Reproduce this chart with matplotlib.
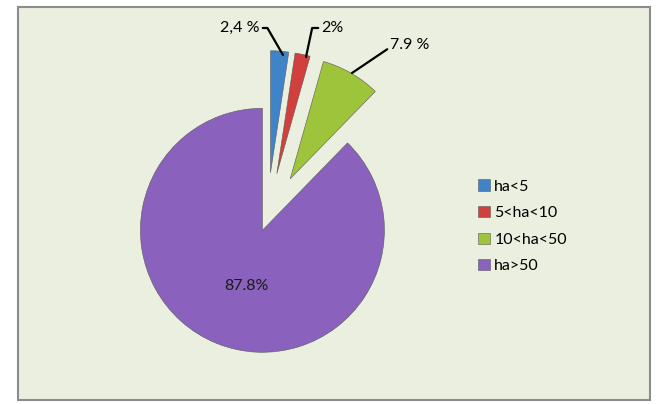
import matplotlib.pyplot as plt
from matplotlib.patches import Rectangle

plt.rcParams['font.family'] = ['Lato', 'DejaVu Sans']

categorias = ['ha<5', '5<ha<10', '10<ha<50', 'ha>50']
valores = [2.4, 2.0, 7.9, 87.8]
rotulos = ['2,4 %', '2%', '7.9 %', '87.8%']
cores = ['#3F84C9', '#D1403D', '#9DC43A', '#8A62BE']
explode = [0.38, 0.38, 0.38, 0.1]

W, H = 666, 404
fig = plt.figure(figsize=(W / 100, H / 100), dpi=100)
fig.patch.set_facecolor('white')

# moldura do gráfico
fig.patches.append(Rectangle((18 / W, 4 / H), 632 / W, 393 / H, transform=fig.transFigure,
                             facecolor='#EAEFDF', edgecolor='#8C8C8C', linewidth=1.5, zorder=-10))

R = 122  # raio em pixels
cx, cy = 267, 219
ax = fig.add_axes([(cx - 2 * R) / W, 0, 4 * R / W, 1])
ax.patch.set_visible(False)
wedges, _ = ax.pie(valores, colors=cores, explode=explode, startangle=90, counterclock=False,
                   wedgeprops={'edgecolor': '#5a5a5a', 'linewidth': 0.4})
ax.set_xlim(-2, 2)
ax.set_ylim(-(H - cy) / R, cy / R)
ax.set_aspect('auto')
ax.axis('off')

def px(x, y):
    return ((x - cx) / R, (cy - y) / R)

# rótulos com linhas de chamada
fs = 11.5
ax.annotate(rotulos[0], xy=px(283, 55), xytext=px(260, 35), ha='right', va='bottom', fontsize=fs,
            arrowprops=dict(arrowstyle='-', color='black', lw=1.6, shrinkA=0, shrinkB=0,
                            connectionstyle='angle,angleA=0,angleB=120,rad=0'))
ax.annotate(rotulos[1], xy=px(306, 57), xytext=px(321, 35), ha='left', va='bottom', fontsize=fs,
            arrowprops=dict(arrowstyle='-', color='black', lw=1.6, shrinkA=0, shrinkB=0,
                            connectionstyle='angle,angleA=0,angleB=78,rad=0'))
ax.annotate(rotulos[2], xy=px(352, 73), xytext=px(390, 52), ha='left', va='bottom', fontsize=fs,
            arrowprops=dict(arrowstyle='-', color='black', lw=1.6, shrinkA=0, shrinkB=0,
                            connectionstyle='angle,angleA=0,angleB=34,rad=0'))
ax.text(*px(246, 286), rotulos[3], ha='center', va='center', fontsize=fs, color='#1a1a1a')

fig.legend(wedges, categorias, loc='upper left', bbox_to_anchor=(464 / W, 1 - 165 / H),
           frameon=False, fontsize=fs, handlelength=0.7, handleheight=0.7,
           handletextpad=0.3, labelspacing=0.78)

fig.savefig('out.png', dpi=100)
